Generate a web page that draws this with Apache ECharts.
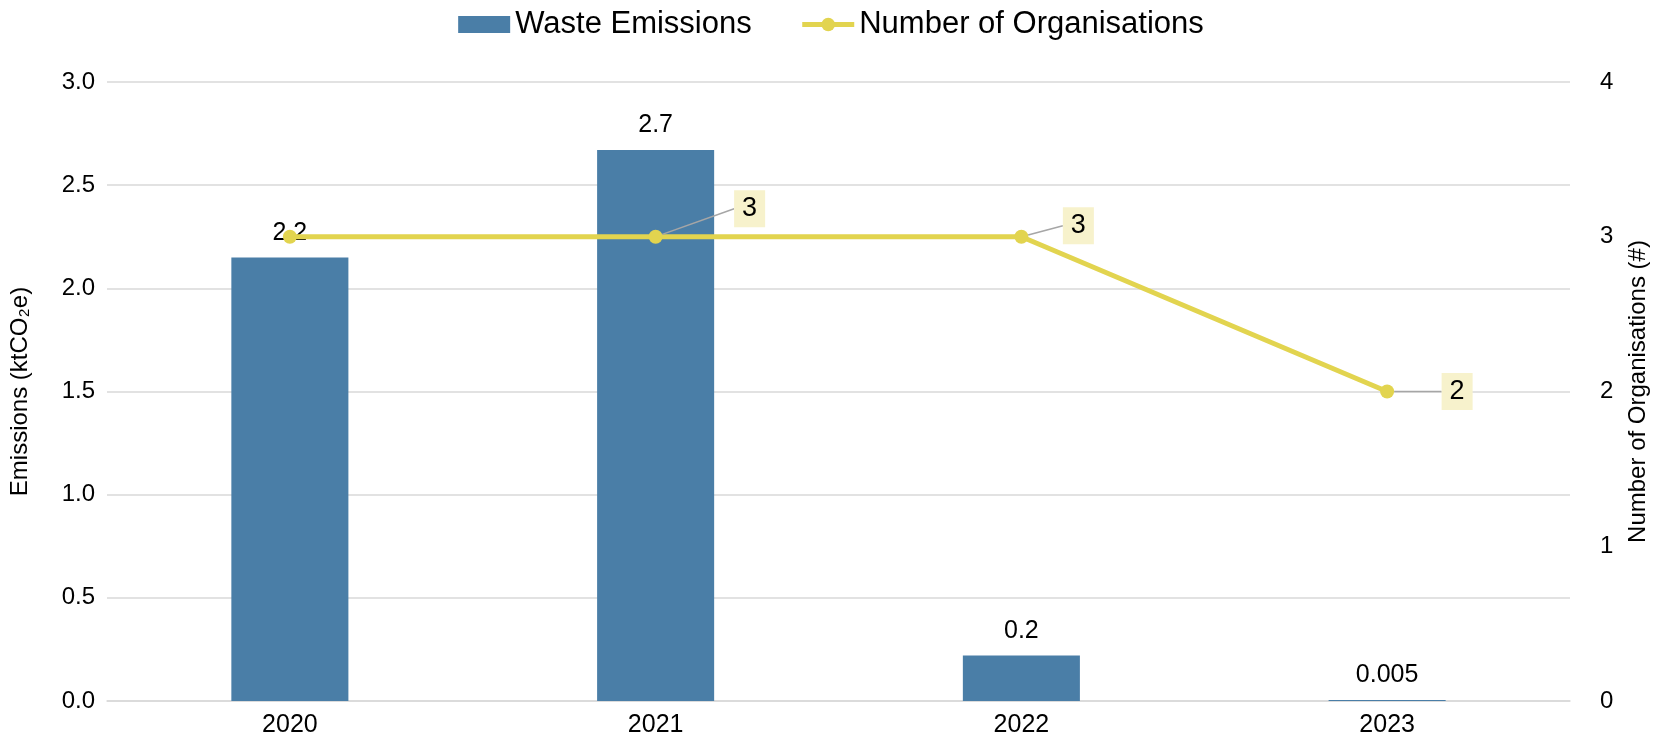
<!DOCTYPE html>
<html>
<head>
<meta charset="utf-8">
<script src="https://cdn.jsdelivr.net/npm/echarts@6/dist/echarts.min.js"></script>
<style>
html, body { margin: 0; padding: 0; background: #fff; }
#chart { width: 1662px; height: 747px; }
</style>
</head>
<body>
<div id="chart"></div>
<script>
var years = ['2020', '2021', '2022', '2023'];
var emissions = [2.15, 2.67, 0.22, 0.005];
var emissionLabels = ['2.2', '2.7', '0.2', '0.005'];
var organisations = [3, 3, 3, 2];
var showOrgLabel = [false, true, true, true];

var font = 'Liberation Sans, Arial, sans-serif';
var myChart = echarts.init(document.getElementById('chart'));

// where each org label sits relative to its point
var orgOffsets = [[0, 0], [94, -28], [57, -11], [70, 0]];

var option = {
    animation: false,
    textStyle: { fontFamily: font },
    legend: {
        top: 4,
        left: 'center',
        itemGap: 48,
        itemWidth: 52,
        itemHeight: 17,
        textStyle: { fontSize: 31, color: '#000', fontFamily: font },
        data: [
            { name: 'Waste Emissions', icon: 'rect' },
            { name: 'Number of Organisations', lineStyle: { width: 5 } }
        ]
    },
    grid: { left: 106, right: 92, top: 82, bottom: 46 },
    xAxis: {
        type: 'category',
        data: years,
        axisTick: { show: false },
        axisLine: { lineStyle: { color: '#d9d9d9', width: 1.5 } },
        axisLabel: { color: '#000', fontSize: 25, margin: 12 }
    },
    yAxis: [{
        type: 'value',
        min: 0,
        max: 3,
        interval: 0.5,
        name: 'Emissions (ktCO\u2082e)',
        nameLocation: 'middle',
        nameGap: 75,
        nameTextStyle: { color: '#000', fontSize: 24 },
        axisLine: { show: false },
        axisTick: { show: false },
        axisLabel: {
            color: '#000', fontSize: 24, margin: 12,
            formatter: function (v) { return v.toFixed(1); }
        },
        splitLine: { lineStyle: { color: '#d9d9d9', width: 1.5 } }
    }, {
        type: 'value',
        min: 0,
        max: 4,
        interval: 1,
        name: 'Number of Organisations (#)',
        nameLocation: 'middle',
        nameGap: 56,
        nameRotate: 90,
        nameTextStyle: { color: '#000', fontSize: 24 },
        axisLine: { show: false },
        axisTick: { show: false },
        axisLabel: { color: '#000', fontSize: 24, margin: 30 },
        splitLine: { show: false }
    }],
    series: [{
        name: 'Waste Emissions',
        type: 'bar',
        barWidth: '32%',
        itemStyle: { color: '#4a7ea7' },
        label: {
            show: true,
            position: 'top',
            distance: 12,
            color: '#000',
            fontSize: 25,
            formatter: function (p) { return emissionLabels[p.dataIndex]; }
        },
        data: emissions
    }, {
        name: 'Number of Organisations',
        type: 'line',
        yAxisIndex: 1,
        z: 5,
        symbol: 'circle',
        symbolSize: 14,
        lineStyle: { color: '#e2d44f', width: 5 },
        itemStyle: { color: '#e2d44f' },
        label: {
            show: true,
            position: 'inside',
            color: '#000',
            fontSize: 27,
            backgroundColor: '#f7f2cc',
            padding: [6, 8, 4, 8]
        },
        labelLine: {
            show: true,
            lineStyle: { color: '#a6a6a6', width: 1.5 }
        },
        labelLayout: function (params) {
            var o = orgOffsets[params.dataIndex];
            return { dx: o[0], dy: o[1] };
        },
        data: organisations.map(function (v, i) {
            return { value: v, label: { show: showOrgLabel[i] }, labelLine: { show: showOrgLabel[i] } };
        })
    }]
};

myChart.setOption(option);
window.addEventListener('resize', function () {
    myChart.resize();
});
</script>
</body>
</html>
